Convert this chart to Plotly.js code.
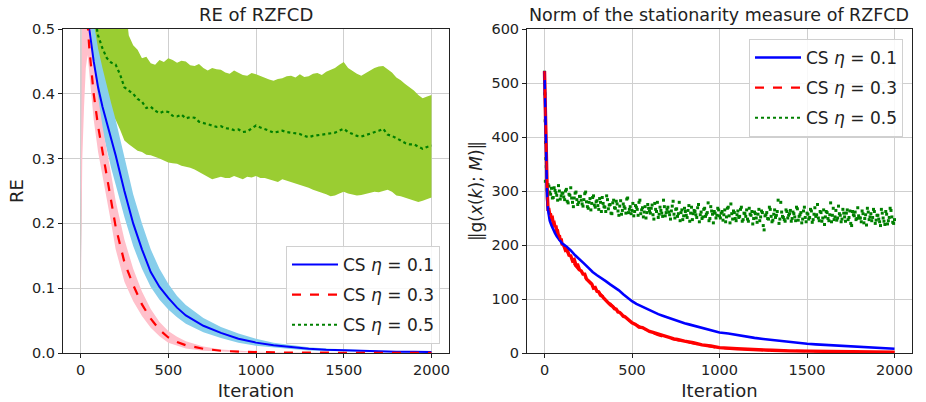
<!DOCTYPE html>
<html><head><meta charset="utf-8">
<script src="https://cdn.plot.ly/plotly-3.0.1.min.js"></script>
<style>html,body{margin:0;padding:0;background:#fff}#c{width:926px;height:402px}</style>
</head><body><div id="c"></div>
<script>
// ---------- Left panel: RE of RZFCD ----------
const itL = [0,5,10,20,30,40,50,75,100,125,150,175,200,250,300,350,400,450,500,550,600,700,800,900,1000,1100,1200,1300,1400,1500,1600,1700,1800,1900,2000];
const reBlue   = [0.7,0.7,0.62,0.65,0.6,0.54,0.5,0.45,0.41,0.38,0.355,0.33,0.305,0.25,0.2,0.16,0.125,0.102,0.085,0.07,0.058,0.042,0.031,0.022,0.016,0.012,0.009,0.0065,0.005,0.004,0.003,0.0025,0.002,0.0018,0.0015];
const reBlueHi = [0.15,0.6,0.75,0.75,0.7,0.64,0.58,0.51,0.47,0.44,0.41,0.385,0.36,0.3,0.245,0.2,0.16,0.13,0.107,0.088,0.074,0.054,0.04,0.03,0.022,0.016,0.012,0.009,0.007,0.0055,0.0045,0.0035,0.003,0.0025,0.002];
const reBlueLo = [0.05,0.23,0.4,0.5,0.5,0.47,0.44,0.4,0.37,0.34,0.31,0.285,0.26,0.21,0.165,0.13,0.102,0.082,0.067,0.055,0.045,0.032,0.023,0.016,0.011,0.008,0.006,0.004,0.003,0.0025,0.002,0.0015,0.0012,0.001,0.001];
const reRed    = [0.7,0.7,0.62,0.65,0.58,0.51,0.47,0.4,0.35,0.31,0.275,0.235,0.195,0.14,0.105,0.075,0.053,0.036,0.024,0.017,0.012,0.0065,0.0035,0.002,0.0012,0.0008,0.0006,0.0005,0.0004,0.0003,0.0003,0.0002,0.0002,0.0002,0.0002];
const reRedHi  = [0.15,0.6,0.75,0.75,0.68,0.6,0.53,0.45,0.395,0.35,0.315,0.275,0.235,0.175,0.13,0.095,0.068,0.048,0.034,0.025,0.018,0.01,0.0055,0.0032,0.002,0.0014,0.001,0.0008,0.0008,0.0007,0.0006,0.0006,0.0005,0.0005,0.0005];
const reRedLo  = [0.05,0.2,0.3,0.38,0.44,0.46,0.43,0.36,0.31,0.275,0.24,0.2,0.16,0.11,0.08,0.057,0.039,0.026,0.016,0.011,0.007,0.0035,0.0018,0.001,0.0006,0.0004,0.0003,0.0002,0.0002,0.0001,0.0001,0.0001,0.0001,0.0001,0.0001];

const itG = [0,10,20,40,60,80,100,125,150,175,200,225,250,275,300,325,350,375,400,425,450,475,500,525,550,575,600,625,650,675,700,725,750,775,800,825,850,875,900,925,950,975,1000,1025,1050,1075,1100,1125,1150,1175,1200,1225,1250,1275,1300,1325,1350,1375,1400,1425,1450,1475,1500,1525,1550,1575,1600,1625,1650,1675,1700,1725,1750,1775,1800,1825,1850,1875,1900,1925,1950,1975,2000];
const reGreen   = [0.7,0.7,0.65,0.6,0.56,0.52,0.49,0.47,0.455,0.448,0.445,0.43,0.41,0.405,0.4,0.392,0.388,0.378,0.38,0.374,0.37,0.373,0.372,0.366,0.365,0.368,0.362,0.364,0.363,0.357,0.355,0.353,0.352,0.349,0.35,0.347,0.346,0.344,0.345,0.341,0.342,0.346,0.351,0.348,0.346,0.343,0.34,0.342,0.343,0.341,0.34,0.339,0.338,0.335,0.333,0.335,0.336,0.337,0.338,0.339,0.34,0.343,0.346,0.341,0.338,0.335,0.334,0.336,0.338,0.34,0.343,0.346,0.337,0.335,0.332,0.328,0.324,0.322,0.322,0.319,0.315,0.318,0.32];
const reGreenHi = [0.1,0.7,0.75,0.7,0.65,0.62,0.6,0.6,0.58,0.57,0.56,0.56,0.55,0.49,0.475,0.468,0.455,0.457,0.447,0.445,0.452,0.449,0.455,0.452,0.448,0.451,0.45,0.444,0.443,0.446,0.44,0.436,0.44,0.438,0.437,0.433,0.431,0.436,0.433,0.429,0.428,0.432,0.43,0.427,0.425,0.422,0.42,0.423,0.424,0.427,0.428,0.425,0.43,0.426,0.427,0.431,0.432,0.429,0.434,0.437,0.44,0.445,0.449,0.44,0.435,0.431,0.428,0.432,0.435,0.44,0.442,0.443,0.438,0.433,0.425,0.421,0.415,0.41,0.405,0.398,0.393,0.396,0.398];
const reGreenLo = [0.05,0.5,0.55,0.5,0.46,0.43,0.41,0.39,0.375,0.365,0.36,0.345,0.328,0.322,0.317,0.312,0.31,0.306,0.305,0.303,0.3,0.297,0.294,0.293,0.292,0.289,0.288,0.286,0.283,0.279,0.275,0.271,0.268,0.27,0.272,0.27,0.27,0.273,0.27,0.268,0.272,0.271,0.273,0.27,0.27,0.268,0.266,0.264,0.268,0.266,0.264,0.262,0.26,0.258,0.255,0.252,0.25,0.247,0.245,0.242,0.243,0.246,0.249,0.246,0.245,0.243,0.244,0.246,0.247,0.249,0.248,0.25,0.252,0.249,0.243,0.242,0.24,0.237,0.236,0.233,0.235,0.237,0.24];

// ---------- Right panel: norm of stationarity measure ----------
const itR = [0,5,10,15,20,25,30,40,50,60,70,80,90,100,125,150,175,200,225,250,275,300,325,350,375,400,425,450,475,500,525,550,575,600,625,650,675,700,725,750,775,800,825,850,875,900,925,950,975,1000,1050,1100,1150,1200,1250,1300,1350,1400,1450,1500,1550,1600,1650,1700,1750,1800,1850,1900,1950,2000];
const gBlue = [522,420,330,285,265,252,245,236,228,222,216,212,207,203,197,190,181,174,166,158,150,144,139,133,127,122,116,109,102,96,91,87,83,79,76,72,69,66,63,60,58,55,53,51,49,46,44,42,40,38,36,33,31,28,26,24,22,20,19,17,16,15,14,13,12,11,10,9,8.5,8];
const gRed  = [522,425,340,300,268,262,258,250,242,235,226,218,210,203,190,176,162,152,142,132,124,116,108,100,92,84,76,70,62,56,52,47,43,39,36,33,30,28,26,24,22,21,19.5,18,16,14,12.5,11.5,10.5,9.5,8.5,7.5,6.5,5.8,5.2,4.7,4.2,3.8,3.4,3.1,2.8,2.6,2.4,2.2,2.0,1.9,1.8,1.7,1.6,1.5];
const itRN = [0,5,10,15,20,25,30,35,40,45,50,55,60,65,70,75,80,85,90,95,100,110,120,130,140,150,160,170,180,190,200,210,220,230,240,250,260,270,280,290,300,310,320,330,340,350,360,370,380,390,400,410,420,430,440,450,460,470,480,490,500,520,540,560,580,600,620,640,660,680,700,720,740,760,780,800,850,900,950,1000,1100,1200,1300,1400,1500,1600,1700,1800,1900,2000];
const gRedNoisy = [522,428,337,303,266,266,256,256,249,250,240,241,233,236,224,225,216,218,208,212,202,199,190,191,181,180,171,173,163,163,154,152,146,146,137,134,130,128,120,121,114,113,107,105,101,97,95,91,88,86,82,81,76,75,72,68,67,64,61,58,56,53,48,47,43,40,38,36,33,32,29,28,26,25,23,22,19,15,13,10,8,6,5,4,3.4,2.8,2.3,2,1.7,1.5];
const itGR = [0,2,4,6,8,10,20,30,40,50,60,70,80,90,100,110,120,130,140,150,160,170,180,190,200,210,220,230,240,250,260,270,280,290,300,310,320,330,340,350,360,370,380,390,400,410,420,430,440,450,460,470,480,490,500,510,520,530,540,550,560,570,580,590,600,610,620,630,640,650,660,670,680,690,700,710,720,730,740,750,760,770,780,790,800,810,820,830,840,850,860,870,880,890,900,910,920,930,940,950,960,970,980,990,1000,1010,1020,1030,1040,1050,1060,1070,1080,1090,1100,1110,1120,1130,1140,1150,1160,1170,1180,1190,1200,1210,1220,1230,1240,1250,1260,1270,1280,1290,1300,1310,1320,1330,1340,1350,1360,1370,1380,1390,1400,1410,1420,1430,1440,1450,1460,1470,1480,1490,1500,1510,1520,1530,1540,1550,1560,1570,1580,1590,1600,1610,1620,1630,1640,1650,1660,1670,1680,1690,1700,1710,1720,1730,1740,1750,1760,1770,1780,1790,1800,1810,1820,1830,1840,1850,1860,1870,1880,1890,1900,1910,1920,1930,1940,1950,1960,1970,1980,1990,2000];
const gGreen = [520,480,430,390,360,
 345,312,298,305,288,301,292,310,285,296,
 289,300,281,294,306,279,287,298,275,290,
 283,272,295,280,268,286,277,291,270,282,
 266,279,288,271,262,284,274,259,278,269,
 281,263,272,257,276,268,285,260,271,264,
 254,273,266,279,258,269,261,250,275,263,
 268,256,277,262,251,270,259,283,254,266,
 261,248,272,257,266,253,279,260,247,268,
 255,264,244,270,258,262,251,275,256,249,
 266,253,260,245,271,257,262,250,268,254,
 259,246,265,252,270,241,258,263,249,256,
 251,266,244,259,253,248,268,255,239,261,
 250,257,245,263,236,254,260,248,266,243,
 257,251,262,240,279,253,247,265,250,258,
 244,261,252,270,246,256,241,263,251,259,
 248,266,242,257,253,275,245,260,250,238,
 262,249,256,243,268,252,246,272,255,248,
 259,244,265,251,240,262,254,247,269,250,
 243,258,249,237,261,252,245,266,240,255,
 248,236,259,244,262,239,251,264,242,247];
const itGR2 = [5,15,25,35,45,55,65,75,85,95,105,115,125,135,145,155,165,175,185,195,205,215,225,235,245,255,265,275,285,295,305,315,325,335,345,355,365,375,385,395,405,415,425,435,445,455,465,475,485,495,505,515,525,535,545,555,565,575,585,595,605,615,625,635,645,655,665,675,685,695,705,715,725,735,745,755,765,775,785,795,805,815,825,835,845,855,865,875,885,895,905,915,925,935,945,955,965,975,985,995,1005,1015,1025,1035,1045,1055,1065,1075,1085,1095,1105,1115,1125,1135,1145,1155,1165,1175,1185,1195,1205,1215,1225,1235,1245,1255,1265,1275,1285,1295,1305,1315,1325,1335,1345,1355,1365,1375,1385,1395,1405,1415,1425,1435,1445,1455,1465,1475,1485,1495,1505,1515,1525,1535,1545,1555,1565,1575,1585,1595,1605,1615,1625,1635,1645,1655,1665,1675,1685,1695,1705,1715,1725,1735,1745,1755,1765,1775,1785,1795,1805,1815,1825,1835,1845,1855,1865,1875,1885,1895,1905,1915,1925,1935,1945,1955,1965,1975,1985,1995];
const gGreen2 = [
 318,302,309,294,287,306,297,283,300,291,
 296,284,303,278,292,287,271,296,284,279,
 290,276,284,298,271,279,265,288,274,280,
 273,286,262,277,270,291,267,275,258,283,
 268,276,255,282,264,271,259,287,266,258,
 277,262,270,255,283,265,252,271,260,268,
 259,274,248,266,279,257,264,253,271,260,
 270,256,263,281,250,267,258,245,265,254,
 262,251,273,259,247,264,256,269,243,261,
 252,268,257,278,249,263,241,259,255,265,
 250,262,256,243,268,254,276,248,260,245,
 263,253,270,247,258,265,244,257,262,249,
 258,242,266,252,260,228,256,249,270,253,
 246,265,255,283,248,261,251,244,262,255,
 264,249,258,245,267,253,260,248,270,243,
 257,251,263,247,269,256,250,262,244,265,
 252,260,245,278,255,247,264,250,258,243,
 266,252,259,247,263,236,256,261,249,254,
 250,263,241,256,268,247,258,251,262,246,
 255,243,266,250,238,257,245,268,252,240];

const legendNames = ['CS <i>η</i> = 0.1','CS <i>η</i> = 0.3','CS <i>η</i> = 0.5'];
const BLUE='#0000ff', RED='#ff0000', GREEN='#008000';
const SKY='#87ceeb', PINK='#ffc0cb', YG='#9acd32';

function band(x, lo, hi, color, xa, ya){
  return [
    {x:x, y:lo, xaxis:xa, yaxis:ya, mode:'lines', line:{width:0,color:color}, showlegend:false, hoverinfo:'skip'},
    {x:x, y:hi, xaxis:xa, yaxis:ya, mode:'lines', line:{width:0,color:color}, fill:'tonexty', fillcolor:color, showlegend:false, hoverinfo:'skip'}
  ];
}

const traces = [].concat(
  band(itG, reGreenLo, reGreenHi, YG, 'x','y'),
  band(itL, reBlueLo, reBlueHi, SKY, 'x','y'),
  band(itL, reRedLo, reRedHi, PINK, 'x','y'),
  [
    {x:itL, y:reBlue, xaxis:'x', yaxis:'y', mode:'lines', line:{color:BLUE,width:2}, name:legendNames[0], legend:'legend', legendgroup:'a'},
    {x:itL, y:reRed, xaxis:'x', yaxis:'y', mode:'lines', line:{color:RED,width:2.2,dash:'dash'}, name:legendNames[1], legend:'legend', legendgroup:'b'},
    {x:itG, y:reGreen, xaxis:'x', yaxis:'y', mode:'lines', line:{color:GREEN,width:2.2,dash:'dot'}, name:legendNames[2], legend:'legend', legendgroup:'c'},

    {x:itGR, y:gGreen, xaxis:'x2', yaxis:'y2', mode:'markers', marker:{color:GREEN,size:3,symbol:'square'}, showlegend:false},
    {x:itGR2, y:gGreen2, xaxis:'x2', yaxis:'y2', mode:'markers', marker:{color:GREEN,size:3,symbol:'square'}, showlegend:false},
    {x:itRN, y:gRedNoisy, xaxis:'x2', yaxis:'y2', mode:'lines', line:{color:RED,width:3.4}, showlegend:false},
    {x:itR, y:gBlue, xaxis:'x2', yaxis:'y2', mode:'lines', line:{color:BLUE,width:2.6}, name:legendNames[0], legend:'legend2', legendgroup:'a'},
    {x:itR, y:gRed, xaxis:'x2', yaxis:'y2', mode:'lines', line:{color:RED,width:2.2,dash:'dash'}, name:legendNames[1], legend:'legend2', legendgroup:'b'},
    {x:[null], y:[null], xaxis:'x2', yaxis:'y2', mode:'lines', line:{color:GREEN,width:2.2,dash:'dot'}, name:legendNames[2], legend:'legend2', legendgroup:'c'}
  ]
);

const FONT = 'DejaVu Sans, Verdana, sans-serif';
const axBase = {
  showline:true, mirror:true, linecolor:'#222', linewidth:1,
  ticks:'outside', ticklen:4, tickcolor:'#222',
  showgrid:true, gridcolor:'#cfcfcf', gridwidth:1, zeroline:false,
  tickfont:{family:FONT,size:14.5,color:'#222'}
};
const H=402, W=926;
const yd=[(H-353)/H,(H-29)/H];
const legBase = {bgcolor:'rgba(255,255,255,0.85)', bordercolor:'#d0d0d0', borderwidth:1,
  font:{family:FONT,size:17,color:'#222'}, itemwidth:46, tracegroupgap:5, traceorder:'grouped'};
const layout = {
  width:W, height:H, margin:{l:0,r:0,t:0,b:0},
  paper_bgcolor:'#fff', plot_bgcolor:'#fff',
  font:{family:FONT,color:'#222'},
  xaxis: Object.assign({}, axBase, {domain:[63/W,449/W], range:[-100,2100], tickvals:[0,500,1000,1500,2000],
    title:{text:'Iteration', font:{family:FONT,size:18,color:'#222'}, standoff:6}}),
  yaxis: Object.assign({}, axBase, {domain:yd, range:[0,0.5], tickvals:[0,0.1,0.2,0.3,0.4,0.5], tickformat:'.1f',
    title:{text:'RE', font:{family:FONT,size:18,color:'#222'}, standoff:3}}),
  xaxis2: Object.assign({}, axBase, {anchor:'y2', domain:[527/W,912/W], range:[-100,2100], tickvals:[0,500,1000,1500,2000],
    title:{text:'Iteration', font:{family:FONT,size:18,color:'#222'}, standoff:6}}),
  yaxis2: Object.assign({}, axBase, {anchor:'x2', domain:yd, range:[0,600], tickvals:[0,100,200,300,400,500,600],
    title:{text:'‖g(<i>x</i>(<i>k</i>); <i>M</i>)‖', font:{family:FONT,size:17,color:'#222'}, standoff:4}}),
  legend: Object.assign({}, legBase, {x:440/W, y:(H-344)/H, xanchor:'right', yanchor:'bottom'}),
  legend2: Object.assign({}, legBase, {x:903/W, y:(H-39)/H, xanchor:'right', yanchor:'top'}),
  annotations:[
    {text:'RE of RZFCD', xref:'paper', yref:'paper', x:256/W, y:(H-15)/H, xanchor:'center', yanchor:'middle', showarrow:false, font:{family:FONT,size:18,color:'#222'}},
    {text:'Norm of the stationarity measure of RZFCD', xref:'paper', yref:'paper', x:719/W, y:(H-15)/H, xanchor:'center', yanchor:'middle', showarrow:false, font:{family:FONT,size:17.5,color:'#222'}}
  ]
};
Plotly.newPlot('c', traces, layout, {displayModeBar:false, staticPlot:true});
</script>
</body></html>
